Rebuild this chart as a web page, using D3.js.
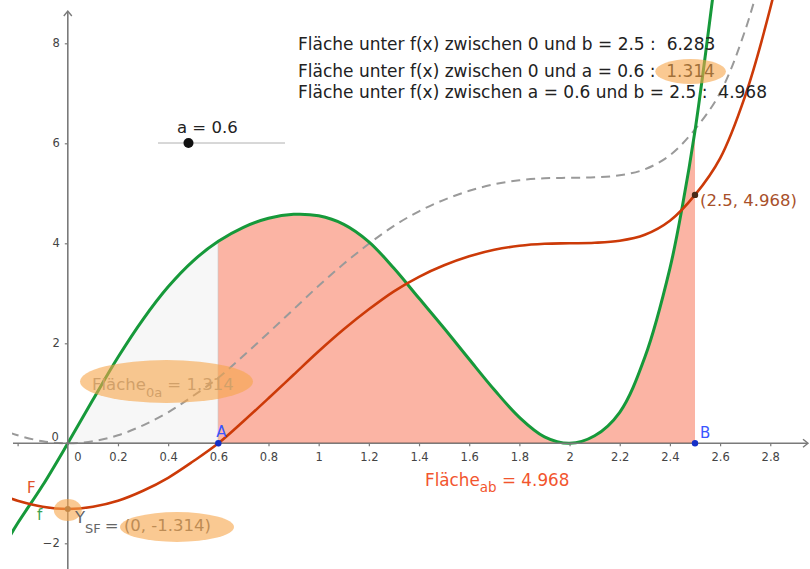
<!DOCTYPE html>
<html><head><meta charset="utf-8">
<script src="https://cdn.jsdelivr.net/npm/d3@7"></script>
<style>
html,body{margin:0;padding:0;background:#fff;}
svg{display:block;font-family:"DejaVu Sans",sans-serif;}
text{white-space:pre;}
</style></head>
<body>
<svg id="c" width="810" height="569"></svg>
<script>
// ---- data ----
const fX = [-0.23,-0.2,-0.1,0,0.1,0.2,0.3,0.4,0.5,0.6,0.7,0.8,0.9,1.0,1.1,1.2,1.3,1.4,1.5,1.6,1.7,1.8,1.9,2.0,2.1,2.2,2.3,2.4,2.45,2.5,2.55,2.6];
const fY = [-1.85,-1.6,-0.84,0,0.87,1.72,2.48,3.13,3.65,4.04,4.32,4.5,4.58,4.55,4.38,4.03,3.5,2.9,2.3,1.68,1.07,0.52,0.13,0,0.15,0.62,1.72,3.5,4.75,6.25,8.1,10.1];
const FX = [-0.23,-0.2,-0.1,0,0.1,0.2,0.3,0.4,0.5,0.6,0.7,0.8,0.9,1.0,1.1,1.2,1.3,1.4,1.5,1.6,1.7,1.8,1.9,2.0,2.1,2.2,2.3,2.4,2.5,2.6,2.7,2.8,2.85];
const FY = [-1.1,-1.15,-1.27,-1.314,-1.27,-1.15,-0.95,-0.69,-0.36,0,0.44,0.9,1.37,1.84,2.28,2.68,3.04,3.33,3.56,3.74,3.87,3.95,3.99,4.0,4.01,4.05,4.17,4.45,4.968,5.7,6.95,8.7,9.8];
const GX = [-0.23,-0.2,-0.1,0,0.1,0.2,0.3,0.4,0.5,0.6,0.7,0.8,0.9,1.0,1.1,1.2,1.3,1.4,1.5,1.6,1.7,1.8,1.9,2.0,2.1,2.2,2.3,2.4,2.5,2.6,2.7,2.8];
const GY = [0.21,0.16,0.04,0,0.04,0.16,0.36,0.62,0.95,1.31,1.75,2.21,2.68,3.15,3.59,3.99,4.35,4.64,4.87,5.05,5.18,5.26,5.3,5.31,5.32,5.36,5.48,5.76,6.28,7.01,8.26,10.01];
const xTicks = [-0.2,0.2,0.4,0.6,0.8,1,1.2,1.4,1.6,1.8,2,2.2,2.4,2.6,2.8];
const yTicks = [-2,2,4,6,8];
const aVal = 0.6, bVal = 2.5;
const sliderRange = [0, 2.5];
const areaAB = 4.968, area0a = 1.314, area0b = 6.283;
const pointF = [2.5, 4.968];
const pointY = [0, -1.314];
const infoLines = [
  ["Fläche unter f(x) zwischen 0 und b = 2.5 :  ", "6.283"],
  ["Fläche unter f(x) zwischen 0 und a = 0.6 :  ", "1.314"],
  ["Fläche unter f(x) zwischen a = 0.6 und b = 2.5 :  ", "4.968"]
];

// ---- setup ----
const svg = d3.select("#c");
const W = 810, H = 569;
const x = d3.scaleLinear().domain([0, 2.5]).range([67.8, 695]);
const y = d3.scaleLinear().domain([0, 8]).range([443.3, 43.3]);
const FS = 16.5;
const axisCol = "#7a7a7a";

svg.append("defs").append("clipPath").attr("id","clip")
  .append("rect").attr("x",12).attr("y",0).attr("width",W-12).attr("height",H);

const zip = (a,b) => a.map((v,i)=>[v,b[i]]);
const fPts = zip(fX,fY), FPts = zip(FX,FY), GPts = zip(GX,GY);
const curve = d3.curveCatmullRom.alpha(0.5);
const line = d3.line().x(d=>x(d[0])).y(d=>y(d[1])).curve(curve);
const area = d3.area().x(d=>x(d[0])).y0(y(0)).y1(d=>y(d[1])).curve(curve);

const plot = svg.append("g").attr("clip-path","url(#clip)");

const pts0a = fPts.filter(d=>d[0]>=0 && d[0]<=aVal);
const ptsAb = fPts.filter(d=>d[0]>=aVal && d[0]<=bVal);

// axes lines
const x0px = x(0), y0px = y(0);
const axes = svg.append("g");
axes.append("line").attr("x1",13).attr("x2",807).attr("y1",y0px).attr("y2",y0px)
  .attr("stroke",axisCol).attr("stroke-width",1.6);
axes.append("polyline").attr("points",`${803},${y0px-4} ${808},${y0px} ${803},${y0px+4}`)
  .attr("fill","none").attr("stroke",axisCol).attr("stroke-width",1.4);
axes.append("line").attr("x1",x0px).attr("x2",x0px).attr("y1",H).attr("y2",12)
  .attr("stroke",axisCol).attr("stroke-width",1.6);
axes.append("polyline").attr("points",`${x0px-4},${16} ${x0px},${11} ${x0px+4},${16}`)
  .attr("fill","none").attr("stroke",axisCol).attr("stroke-width",1.4);

const xAx = svg.append("g").attr("transform",`translate(0,${y0px})`)
  .call(d3.axisBottom(x).tickValues(xTicks).tickSize(3).tickPadding(6.5)
        .tickFormat(d=> d<0 ? "" : String(+d.toFixed(1))));
xAx.select(".domain").remove();
xAx.selectAll("line").attr("stroke",axisCol).attr("stroke-width",1.2);
xAx.selectAll("text").attr("fill","#444").attr("font-size",11.5).attr("font-family","DejaVu Sans");

const yAx = svg.append("g").attr("transform",`translate(${x0px},0)`)
  .call(d3.axisLeft(y).tickValues(yTicks).tickSize(3).tickPadding(5));
yAx.select(".domain").remove();
yAx.selectAll("line").attr("stroke",axisCol).attr("stroke-width",1.2);
yAx.selectAll("text").attr("fill","#444").attr("font-size",11.5).attr("font-family","DejaVu Sans");

// origin labels
svg.append("text").attr("x",x0px-9).attr("y",y0px-2).attr("text-anchor","end")
  .attr("font-size",11.5).attr("fill","#444").text("0");
svg.append("text").attr("x",x0px+10).attr("y",y0px+18).attr("text-anchor","middle")
  .attr("font-size",11.5).attr("fill","#444").text("0");

// areas
plot.append("path").datum(pts0a).attr("d",area).attr("fill","#f7f7f7");
plot.append("line").attr("x1",x(aVal)).attr("x2",x(aVal)).attr("y1",y0px).attr("y2",y(fY[fX.indexOf(aVal)]))
  .attr("stroke","#c4c4c4").attr("stroke-width",1.2);
plot.append("line").attr("x1",x0px).attr("x2",x(aVal)).attr("y1",y0px).attr("y2",y0px)
  .attr("stroke","#b8b8b8").attr("stroke-width",1.4);
plot.append("path").datum(ptsAb).attr("d",area).attr("fill","#fbb4a4");
plot.append("line").attr("x1",x(aVal)).attr("x2",x(bVal)).attr("y1",y0px).attr("y2",y0px)
  .attr("stroke","#f2836c").attr("stroke-width",1.6);

// curves
plot.append("path").datum(GPts).attr("d",line).attr("fill","none")
  .attr("stroke","#9a9a9a").attr("stroke-width",2).attr("stroke-dasharray","9,6");
plot.append("path").datum(fPts).attr("d",line).attr("fill","none")
  .attr("stroke","#16993a").attr("stroke-width",3);
plot.append("path").datum(FPts).attr("d",line).attr("fill","none")
  .attr("stroke","#cc3a08").attr("stroke-width",2.6);

const hl = "#f6a54a", hlOp = 0.6;

// points A, B
svg.append("circle").attr("cx",x(aVal)).attr("cy",y0px).attr("r",3.2).attr("fill","#1530c8");
svg.append("circle").attr("cx",x(bVal)).attr("cy",y0px).attr("r",3.2).attr("fill","#1530c8");
svg.append("text").attr("x",x(aVal)-2).attr("y",y0px-6).attr("font-size",15).attr("fill","#3a55ff").text("A");
svg.append("text").attr("x",x(bVal)+5).attr("y",y0px-5).attr("font-size",15).attr("fill","#3a55ff").text("B");

// point on F at b
svg.append("circle").attr("cx",x(pointF[0])).attr("cy",y(pointF[1])).attr("r",3.2).attr("fill","#4a2a18");
svg.append("text").attr("x",x(pointF[0])+5).attr("y",y(pointF[1])+11).attr("font-size",FS)
  .attr("fill","#a8502a").text(`(${pointF[0]}, ${pointF[1]})`);

// curve labels
svg.append("text").attr("x",27).attr("y",493).attr("font-size",15).attr("fill","#e0522c").text("F");
svg.append("text").attr("x",37).attr("y",520).attr("font-size",15).attr("fill","#3aa352").text("f");

// Y_SF point
svg.append("circle").attr("cx",x(pointY[0])).attr("cy",y(pointY[1])).attr("r",3).attr("fill","#7a5a40");
svg.append("ellipse").attr("cx",x(pointY[0])).attr("cy",y(pointY[1])+1).attr("rx",14).attr("ry",11)
  .attr("fill",hl).attr("opacity",hlOp);
const ysf = svg.append("text").attr("font-size",FS).attr("fill","#666");
ysf.append("tspan").attr("x",75).attr("y",523).text("Y");
ysf.append("tspan").attr("y",533).attr("font-size",13).text("SF");
ysf.append("tspan").attr("dx",4).attr("y",531).text("= ");
ysf.append("tspan").attr("y",531).text(`(${pointY[0]}, ${pointY[1]})`);
svg.append("ellipse").attr("cx",177).attr("cy",527).attr("rx",57).attr("ry",15)
  .attr("fill",hl).attr("opacity",hlOp);

// Fläche_0a label
const t0a = svg.append("text").attr("x",92).attr("y",390).attr("font-size",FS).attr("fill","#999");
t0a.append("tspan").text("Fläche");
t0a.append("tspan").attr("y",397).attr("font-size",13).text("0a");
t0a.append("tspan").attr("y",390).text(` = ${area0a}`);
svg.append("ellipse").attr("cx",166.5).attr("cy",381.5).attr("rx",86.5).attr("ry",21.5)
  .attr("fill",hl).attr("opacity",hlOp);

// Fläche_ab label
const tab = svg.append("text").attr("x",425).attr("y",486).attr("font-size",16.8).attr("fill","#f2552e");
tab.append("tspan").text("Fläche");
tab.append("tspan").attr("y",492).attr("font-size",13.5).text("ab");
tab.append("tspan").attr("y",486).text(` = ${areaAB}`);

// slider a
const sx = d3.scaleLinear().domain(sliderRange).range([158, 285]);
svg.append("line").attr("x1",sx(sliderRange[0])).attr("x2",sx(sliderRange[1])).attr("y1",143).attr("y2",143)
  .attr("stroke","#b0b0b0").attr("stroke-width",1);
svg.append("circle").attr("cx",sx(aVal)).attr("cy",143).attr("r",5).attr("fill","#111");
svg.append("text").attr("x",177).attr("y",133).attr("font-size",FS).attr("fill","#222").text(`a = ${aVal}`);

// info lines
const baselines = [49.5, 76.5, 97.5];
infoLines.forEach((l,i)=>{
  const t = svg.append("text").attr("x",298).attr("y",baselines[i]).attr("font-size",17).attr("fill","#222");
  t.append("tspan").text(l[0]);
  const v = t.append("tspan").text(l[1]);
  if (i===1) {
    const bb = v.node().getBBox();
    svg.append("ellipse").attr("cx",bb.x+bb.width/2).attr("cy",bb.y+bb.height/2+1)
      .attr("rx",bb.width/2+11).attr("ry",12.5).attr("fill",hl).attr("opacity",hlOp);
  }
});
</script>
</body></html>
